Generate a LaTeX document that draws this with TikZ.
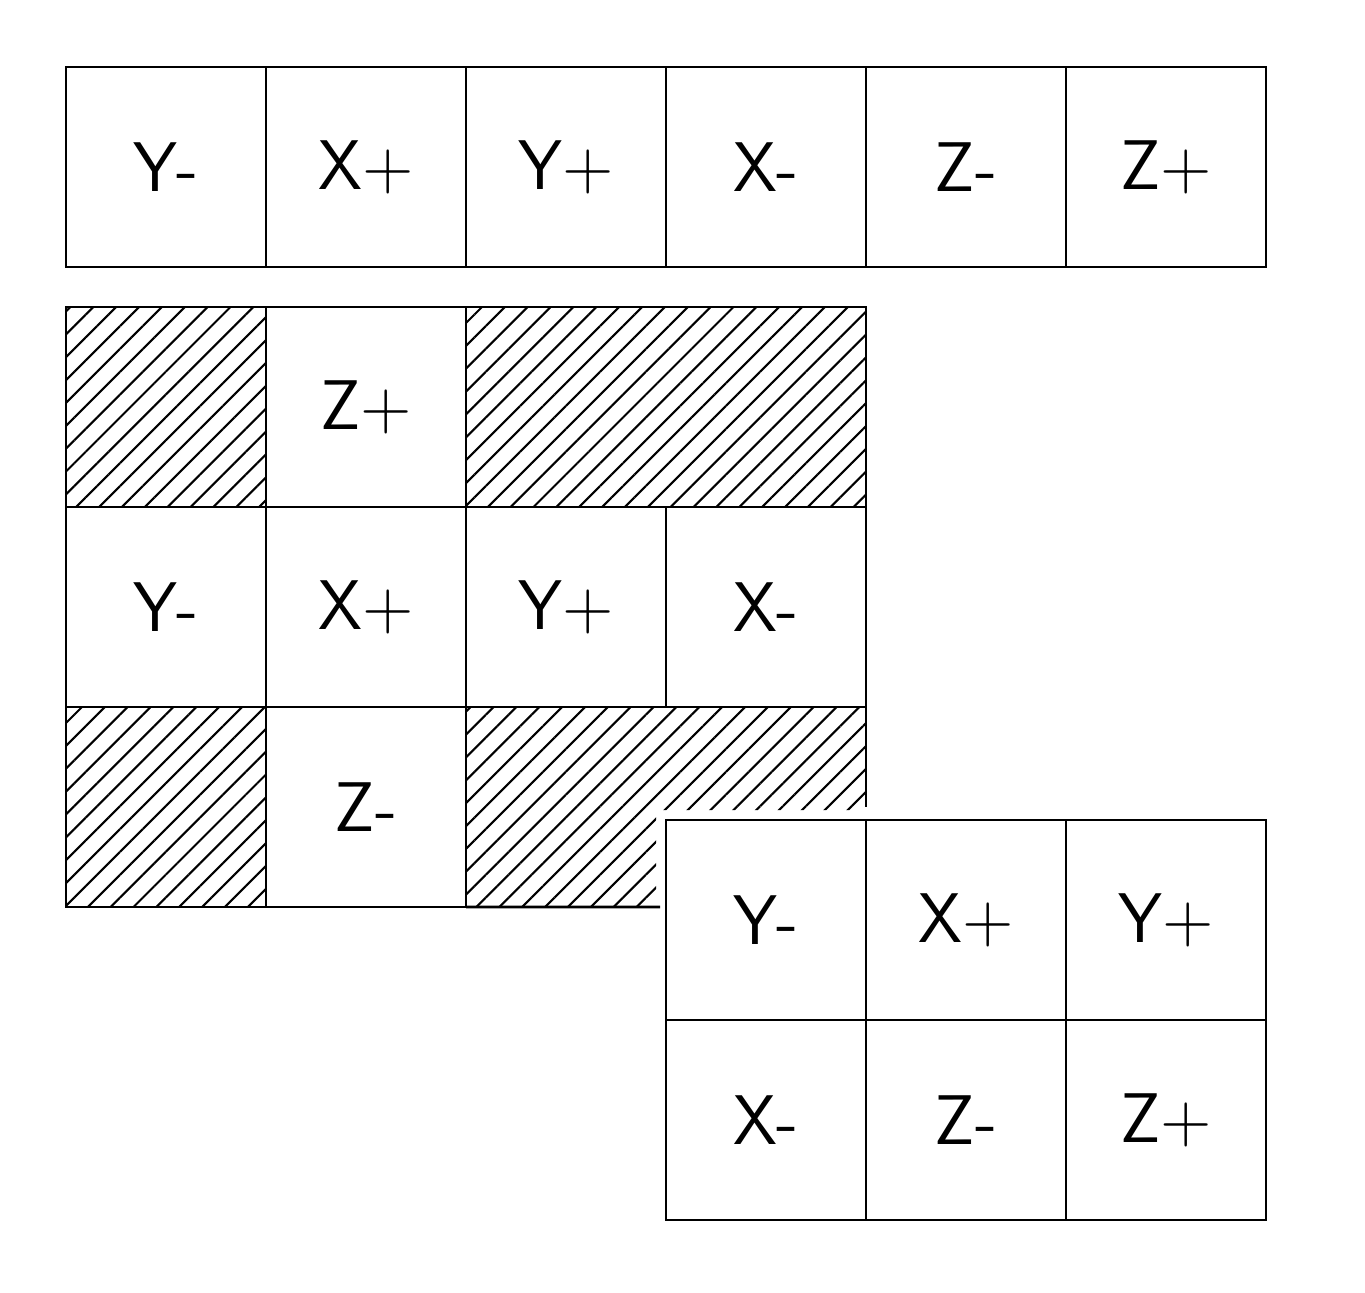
\documentclass[tikz,border=0pt]{standalone}
\usetikzlibrary{positioning,patterns.meta}

\tikzset{
  face/.style={draw,line width=0.8pt,minimum size=2cm,inner sep=0pt,outer sep=0pt,
               font=\sffamily\fontsize{20}{24}\selectfont},
  hatched/.style={pattern={Lines[angle=45,distance=4.6pt,line width=0.6pt]}},
  hatchbox/.style={face,hatched}
}

\begin{document}
\begin{tikzpicture}[node distance=2cm,on grid]
  \useasboundingbox (0,0) rectangle (13.65,-12.92);

  % strip of six faces
  \node[face] (s1) at (1.66,-1.67) {Y-};
  \node[face] (s2) [right=of s1]  {X+};
  \node[face] (s3) [right=of s2]  {Y+};
  \node[face] (s4) [right=of s3]  {X-};
  \node[face] (s5) [right=of s4]  {Z-};
  \node[face] (s6) [right=of s5]  {Z+};

  % cross layout
  \node[face] (cym) at (1.66,-6.07) {Y-};
  \node[face] (cxp) [right=of cym]  {X+};
  \node[face] (cyp) [right=of cxp]  {Y+};
  \node[face] (cxm) [right=of cyp]  {X-};
  \node[face] (czp) [above=of cxp]  {Z+};
  \node[face] (czm) [below=of cxp]  {Z-};
  \node[hatchbox] (h1) [above=of cym] {};
  \node[hatchbox] (h2) [below=of cym] {};
  \path[hatched] (czp.north east) rectangle (cxm.north east);
  \draw[line width=0.8pt] (czp.north east) rectangle (cxm.north east);

  % 3x2 layout
  \node[face] (gym) at (7.66,-9.2) {Y-};
  \node[face] (gxp) [right=of gym]  {X+};
  \node[face] (gyp) [right=of gxp]  {Y+};
  \node[face] (gxm) [below=of gym]  {X-};
  \node[face] (gzm) [right=of gxm]  {Z-};
  \node[face] (gzp) [right=of gzm]  {Z+};

  % L-shaped hatched part behind the 3x2 block
  \path[hatched] (czm.north east) -- (cxm.south east) -- ++(0,-1.03)
    -- (6.56,-8.1) -- (6.56,-9.07) -- (czm.south east) -- cycle;
  \draw[line width=0.8pt] (cxm.south east) -- ++(0,-1.0);
  \draw[line width=0.8pt] (czm.south east) -- (6.6,-9.07);
\end{tikzpicture}
\end{document}
